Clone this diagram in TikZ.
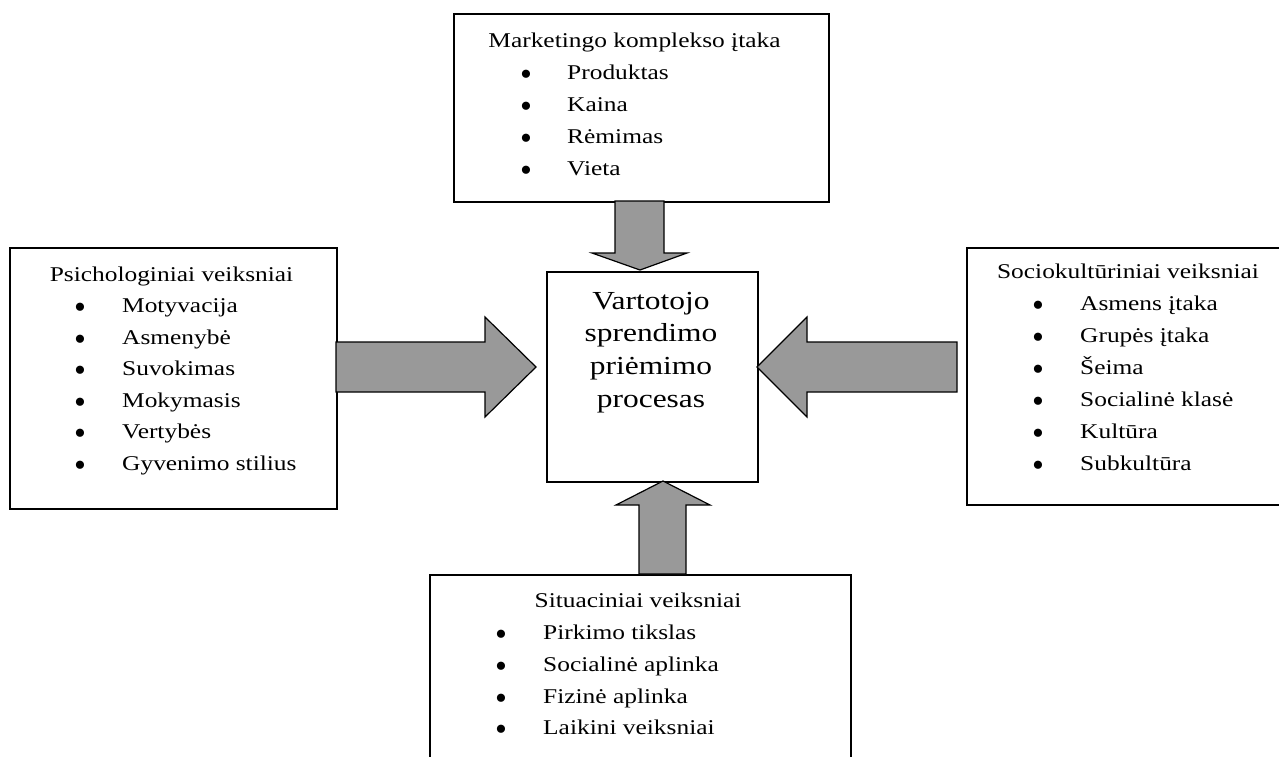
\documentclass[tikz,border=0pt]{standalone}
\usepackage{fontspec}
\setmainfont{Liberation Serif}[FakeStretch=1.21]
\newfontfamily\bulletfont{Liberation Serif}
\definecolor{arrowfill}{RGB}{153,153,153}
\tikzset{
  panel/.style={draw=black, line width=1.6pt, fill=white, inner sep=0pt, anchor=north west},
  blockarrow/.style={draw=black, line width=1.2pt, fill=arrowfill, line join=miter},
  txt/.style={inner sep=0pt, font=\fontsize{21}{24}\selectfont},
  heading/.style={txt, anchor=base},
  dot/.style={inner sep=0pt, anchor=base, yshift=-6pt, font=\bulletfont\fontsize{34}{34}\selectfont},
  entry/.style={txt, anchor=base west},
  coretext/.style={inner sep=0pt, anchor=base, font=\fontsize{26}{30}\selectfont},
}
\begin{document}
\begin{tikzpicture}[x=1pt,y=-1pt]
\useasboundingbox (0,0) rectangle (1279,756);
\clip (0,0) rectangle (1279,756);

% panels
\node[panel, minimum width=375pt, minimum height=188pt] (mkt) at (453,13) {};
\node[panel, minimum width=327pt, minimum height=261pt] (psy) at (9,247) {};
\node[panel, minimum width=211pt, minimum height=210pt] (core) at (546,271) {};
\node[panel, minimum width=340pt, minimum height=257pt] (soc) at (966,247) {};
\node[panel, minimum width=421pt, minimum height=210pt] (sit) at (429,574) {};

% block arrows pointing at the central process
\draw[blockarrow] (615,201) -- (615,253) -- (592,253) -- (640,270) -- (687,253) -- (664,253) -- (664,201) -- cycle;
\draw[blockarrow] (639,574) -- (639,505) -- (616,505) -- (663,481) -- (710,505) -- (686,505) -- (686,574) -- cycle;
\draw[blockarrow] (336,342) -- (485,342) -- (485,317) -- (536,367) -- (485,417) -- (485,392) -- (336,392) -- cycle;
\draw[blockarrow] (957,342) -- (807,342) -- (807,317) -- (757,367) -- (807,417) -- (807,392) -- (957,392) -- cycle;

% central process
\node[coretext] (c1) at (651,309) {Vartotojo};
\node[coretext] (c2) at (651,341.7) {sprendimo};
\node[coretext] (c3) at (651,374.4) {priėmimo};
\node[coretext] (c4) at (651,407) {procesas};

% marketing mix
\node[heading] (mkth) at (634.5,47) {Marketingo komplekso įtaka};
\foreach \t [count=\i] in {Produktas, Kaina, Rėmimas, Vieta} {
  \node[dot] (mktd\i) at (526,47+32*\i) {•};
  \node[entry] (mkti\i) at (567,47+32*\i) {\t};
}

% psychological factors
\node[heading] (psyh) at (171.5,281) {Psichologiniai veiksniai};
\foreach \t [count=\i] in {Motyvacija, Asmenybė, Suvokimas, Mokymasis, Vertybės, Gyvenimo stilius} {
  \node[dot] (psyd\i) at (80,281+31.5*\i) {•};
  \node[entry] (psyi\i) at (122,281+31.5*\i) {\t};
}

% sociocultural factors
\node[heading] (soch) at (1128,278) {Sociokultūriniai veiksniai};
\foreach \t [count=\i] in {Asmens įtaka, Grupės įtaka, Šeima, Socialinė klasė, Kultūra, Subkultūra} {
  \node[dot] (socd\i) at (1038,278+32*\i) {•};
  \node[entry] (soci\i) at (1080,278+32*\i) {\t};
}

% situational factors
\node[heading] (sith) at (638,607) {Situaciniai veiksniai};
\foreach \t [count=\i] in {Pirkimo tikslas, Socialinė aplinka, Fizinė aplinka, Laikini veiksniai} {
  \node[dot] (sitd\i) at (501,608+31.7*\i) {•};
  \node[entry] (siti\i) at (543,608+31.7*\i) {\t};
}
\end{tikzpicture}
\end{document}
